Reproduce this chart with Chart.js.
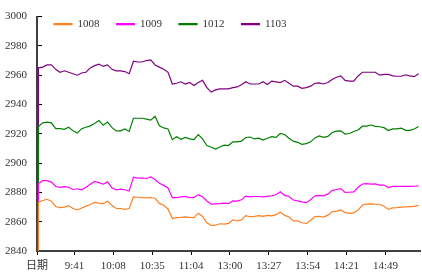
<!DOCTYPE html>
<html>
<head>
<meta charset="utf-8">
<script src="https://cdn.jsdelivr.net/npm/chart.js@4/dist/chart.umd.min.js"></script>
<style>
	html, body { margin: 0; padding: 0; background: #fff; }
	#wrap { width: 422px; height: 273px; }
</style>
</head>
<body>
<div id="wrap"><canvas id="sf-price-chart" width="422" height="273"></canvas></div>
<script>
/* global Chart */
var seriesNames = ['1008', '1009', '1012', '1103'];
var seriesColors = ['#ff7f1e', '#ff00ff', '#008000', '#800080'];

// Bottom axis: minute index of each label, and the label text.
var xTickIndex = [0, 26, 53, 80, 107, 134, 161, 188, 215, 242];
var xTickLabels = ['日期', '9:41', '10:08', '10:35', '11:04', '13:00', '13:27', '13:54', '14:21', '14:49'];
var yTicks = { min: 2840, max: 3000, step: 20 };

// The header row ("日期") is read as 0, which gives the spike at the left edge.
var headerValue = 0;
// Prices sampled every 3 minutes, starting at minute 1.
var sampleStep = 3;

var s1008 = [
	2873.4, 2874.5, 2875.3, 2874, 2870.4, 2869.6, 2870, 2871, 2869, 2868,
	2869.3, 2870.6, 2871.7, 2873.2, 2872.7, 2872.3, 2874, 2871.2, 2869, 2869,
	2868.4, 2869, 2877, 2876.7, 2876.4, 2876.2, 2876.5, 2876, 2872.5, 2871.2,
	2868.7, 2862.2, 2862.8, 2863, 2863.3, 2863, 2862.8, 2865.8, 2863.6, 2859.2,
	2857.4, 2857.6, 2858.6, 2858.3, 2858.8, 2861.2, 2860.5, 2861.2, 2864.1, 2863.4,
	2863.7, 2864.1, 2863.6, 2864.3, 2864, 2864.8, 2866.6, 2864.3, 2863.2, 2860.5,
	2860.5, 2859.3, 2858.8, 2860.8, 2863.5, 2863.7, 2863.2, 2864.5, 2866.8, 2867.2,
	2868, 2866.2, 2865.7, 2866, 2867.9, 2871.4, 2872, 2872.2, 2871.9, 2871.9,
	2870.6, 2868.4, 2869.5, 2869.6, 2870, 2870.1, 2870.3, 2870.5, 2871.2
];
var s1009 = [
	2886, 2888, 2888, 2887, 2884, 2883.4, 2884, 2883.5, 2882, 2882.5,
	2881.8, 2883.5, 2885.5, 2887.5, 2886.7, 2885.6, 2887.2, 2883.2, 2881.8, 2882.2,
	2881.8, 2880.9, 2890.4, 2889.8, 2889.7, 2889.5, 2890.5, 2888.8, 2886.3, 2884.8,
	2883, 2876.4, 2876.5, 2877, 2877.3, 2876.5, 2876.6, 2878.5, 2877, 2874.1,
	2872, 2872.2, 2872.3, 2872.7, 2872.3, 2874.2, 2874.1, 2875, 2877.5, 2876.9,
	2877.2, 2877.2, 2876.9, 2877.3, 2877.7, 2878.4, 2880.4, 2878, 2877.2, 2874.8,
	2874.2, 2873.5, 2873, 2875, 2877.6, 2878, 2877.6, 2878.8, 2881.4, 2882,
	2882.6, 2880, 2880.1, 2880.4, 2883.5, 2885.7, 2886, 2885.6, 2885.8, 2885,
	2885, 2883.3, 2884.1, 2884.1, 2884.1, 2884.1, 2884.1, 2884.2, 2884.5
];
var s1012 = [
	2925, 2927.5, 2928, 2927.5, 2923.5, 2923.5, 2923, 2924.5, 2922, 2920.5,
	2923.5, 2924.5, 2925.4, 2927, 2929, 2925.8, 2928, 2924.4, 2922, 2922,
	2923.3, 2921.6, 2930.6, 2930.6, 2930.6, 2930, 2929.3, 2932, 2925.5, 2924,
	2923.3, 2916, 2918, 2916.3, 2917.5, 2916.5, 2916, 2919.5, 2916.5, 2912,
	2910.8, 2909.6, 2911, 2912.3, 2912, 2914.5, 2914.5, 2915, 2917.5, 2917.8,
	2916.5, 2917, 2915.7, 2917, 2918, 2917.5, 2920.2, 2919.5, 2917, 2915,
	2914.2, 2912.8, 2913.3, 2914.5, 2917.2, 2918.6, 2917.6, 2918.2, 2920.9, 2921.8,
	2922, 2919.8, 2920.2, 2921.6, 2922.6, 2925.2, 2925.2, 2926, 2925.1, 2924.8,
	2924.2, 2922.2, 2923.3, 2923.3, 2923.8, 2922.4, 2922.4, 2923.3, 2925
];
var s1103 = [
	2965, 2965.5, 2967, 2967, 2964, 2962, 2963, 2962, 2961, 2960,
	2961.5, 2962, 2965, 2966.5, 2967.5, 2966, 2967, 2964, 2963, 2963,
	2962.5, 2961, 2969.5, 2969, 2969, 2970, 2970.5, 2967, 2965.5, 2964,
	2962, 2954, 2954.5, 2955.5, 2954, 2955, 2953, 2955, 2956.5, 2951.5,
	2948.5, 2950, 2950.7, 2950.7, 2950.7, 2951.5, 2952, 2953.5, 2955.5, 2954,
	2954, 2954, 2955.5, 2953.7, 2956, 2955.5, 2955, 2956.5, 2954.5, 2952.5,
	2952.5, 2951, 2951.5, 2952.5, 2954.5, 2954.8, 2954, 2955, 2957, 2958.6,
	2959.5, 2956.5, 2956, 2956, 2959.5, 2962, 2962, 2962, 2962, 2960,
	2960.5, 2960.5, 2959.5, 2959.3, 2959.3, 2960.3, 2959.5, 2959, 2961
];

(function () {
	'use strict';

	var fontFamily = "'Liberation Serif', 'Noto Sans CJK SC', serif";
	var textColor = '#333';
	var allSeries = [s1008, s1009, s1012, s1103];

	// Turn a price list into {x, y} points on the minute axis.
	function toPoints(values) {
		var points = [{ x: 0, y: headerValue }];
		values.forEach(function (v, k) {
			points.push({ x: 1 + k * sampleStep, y: v });
		});
		return points;
	}

	var datasets = seriesNames.map(function (name, i) {
		return {
			label: name,
			data: toPoints(allSeries[i]),
			borderColor: seriesColors[i],
			backgroundColor: seriesColors[i],
			borderWidth: 1.2,
			pointRadius: 0,
			tension: 0
		};
	});

	// Legend sits inside the plot: it only reserves 15px, so let it draw below that.
	var legendRoom = {
		id: 'legendRoom',
		afterLayout: function (chart) {
			if (chart.legend) {
				chart.legend.bottom = chart.legend.top + 40;
				chart.legend.height = 40;
			}
		}
	};

	var canvas = document.getElementById('sf-price-chart');

	new Chart(canvas.getContext('2d'), {
		type: 'line',
		data: { datasets: datasets },
		plugins: [legendRoom],
		options: {
			responsive: false,
			animation: false,
			devicePixelRatio: 1,
			layout: {
				padding: { top: 0, right: 2, bottom: 0, left: 0 }
			},
			plugins: {
				tooltip: { enabled: false },
				legend: {
					position: 'top',
					align: 'start',
					fullSize: false,
					maxHeight: 15,
					labels: {
						boxWidth: 18,
						boxHeight: 1,
						padding: 17,
						color: textColor,
						font: { family: fontFamily, size: 11 }
					}
				}
			},
			scales: {
				x: {
					type: 'linear',
					min: 0,
					max: 266,
					afterFit: function (scale) {
						scale.height = 22;
					},
					afterBuildTicks: function (scale) {
						scale.ticks = xTickIndex.map(function (v) {
							return { value: v };
						});
					},
					ticks: {
						autoSkip: false,
						maxRotation: 0,
						padding: 5,
						color: textColor,
						font: { family: fontFamily, size: 11 },
						callback: function (value, index) {
							return xTickLabels[index];
						}
					},
					grid: {
						drawOnChartArea: false,
						drawTicks: true,
						tickLength: 4,
						color: '#000'
					},
					border: { color: '#404040', width: 2 }
				},
				y: {
					min: yTicks.min,
					max: yTicks.max,
					afterFit: function (scale) {
						scale.width = 37;
					},
					ticks: {
						stepSize: yTicks.step,
						padding: 10,
						color: textColor,
						font: { family: fontFamily, size: 11 },
						callback: function (value) {
							return String(value);
						}
					},
					// Short inward tick marks: only the first few px of each grid line.
					grid: {
						drawTicks: false,
						color: '#000',
						lineWidth: 1
					},
					border: { color: '#404040', width: 2, dash: [4, 1000] }
				}
			}
		}
	});
})();
</script>
</body>
</html>
